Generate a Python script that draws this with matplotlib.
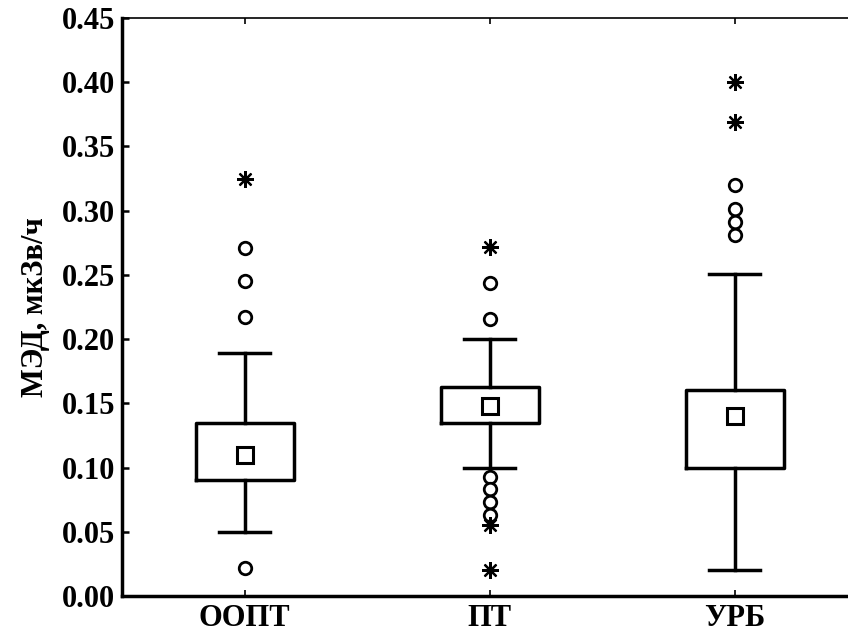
import matplotlib
matplotlib.use('Agg')
import matplotlib.pyplot as plt

# ---- data ----
categories = ['ООПТ', 'ПТ', 'УРБ']
medians = [0.110, 0.148, 0.140]
q1 = [0.090, 0.135, 0.100]
q3 = [0.135, 0.163, 0.160]
whisker_low = [0.050, 0.100, 0.020]
whisker_high = [0.189, 0.200, 0.251]
outliers = [
    [0.271, 0.245, 0.217, 0.022],
    [0.244, 0.216, 0.093, 0.083, 0.073, 0.063],
    [0.320, 0.301, 0.291, 0.281],
]
extremes = [
    [0.325],
    [0.272, 0.055, 0.020],
    [0.400, 0.369],
]
yticks = [0.00, 0.05, 0.10, 0.15, 0.20, 0.25, 0.30, 0.35, 0.40, 0.45]
ylabel = 'МЭД, мкЗв/ч'

plt.rcParams['font.family'] = ['Liberation Serif', 'DejaVu Serif']
plt.rcParams['font.weight'] = 'bold'

fig = plt.figure(figsize=(8.48, 6.36), dpi=100)
ax = fig.add_axes([122 / 848, 1 - 596 / 636, (857 - 122) / 848, (596 - 18) / 636])

positions = list(range(1, len(categories) + 1))
stats = []
for c, m, a, b, lo, hi, o in zip(categories, medians, q1, q3, whisker_low, whisker_high, outliers):
    stats.append(dict(label=c, med=m, mean=m, q1=a, q3=b, whislo=lo, whishi=hi, fliers=o))

lw = 2.5
ax.bxp(stats, positions=positions, widths=0.4, capwidths=0.21,
       showmeans=True, meanline=False,
       boxprops=dict(color='black', linewidth=lw),
       whiskerprops=dict(color='black', linewidth=lw),
       capprops=dict(color='black', linewidth=lw),
       medianprops=dict(linewidth=0),
       meanprops=dict(marker='s', markerfacecolor='white', markeredgecolor='black',
                      markersize=11, markeredgewidth=2.2),
       flierprops=dict(marker='o', markerfacecolor='white', markeredgecolor='black',
                       markersize=9, markeredgewidth=2, linestyle='none'))

for p, ex in zip(positions, extremes):
    ax.plot([p] * len(ex), ex, linestyle='none', marker=(8, 2, 0), markersize=12,
            markeredgewidth=1.6, color='black', clip_on=False)

ax.set_xlim(0.5, 3.5)
ax.set_ylim(0, 0.45)
ax.set_yticks(yticks)
ax.set_yticklabels([f'{v:.2f}' for v in yticks])
ax.set_xticks(positions)
ax.set_xticklabels(categories)

ax.spines['left'].set_linewidth(lw)
ax.spines['bottom'].set_linewidth(lw)
ax.spines['top'].set_linewidth(1.2)
ax.spines['right'].set_linewidth(1.2)

ax.tick_params(axis='y', direction='in', length=5, width=1.8, pad=5, labelsize=22, right=False)
ax.tick_params(axis='x', direction='in', length=4, width=1.2, pad=6, labelsize=22, top=True)
for t in ax.get_xticklabels() + ax.get_yticklabels():
    t.set_fontweight('bold')

ax.set_ylabel(ylabel, fontsize=22, fontweight='bold', labelpad=8)

fig.savefig('out.png', dpi=100)
